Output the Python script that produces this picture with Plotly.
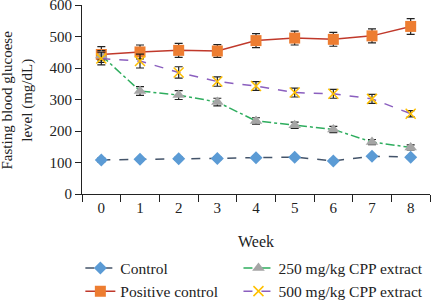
import plotly.graph_objects as go

weeks = ["0", "1", "2", "3", "4", "5", "6", "7", "8"]
control = [108, 110, 112, 113, 115, 117, 105, 120, 117]
control_err = [6, 5, 5, 5, 5, 5, 5, 5, 5]
positive = [443, 451, 456, 454, 487, 495, 491, 502, 532]
positive_err = [25, 22, 22, 20, 22, 22, 22, 22, 25]
cpp250 = [440, 327, 314, 292, 232, 218, 205, 165, 148]
cpp250_err = [15, 14, 14, 12, 10, 10, 10, 8, 8]
cpp500 = [430, 422, 386, 357, 343, 322, 318, 302, 255]
cpp500_err = [20, 22, 18, 15, 14, 14, 14, 14, 10]

font = "Liberation Serif, Times New Roman, serif"

fig = go.Figure()

def add(name, y, err, line_color, dash, marker_color, symbol, size, legend):
    fig.add_trace(go.Scatter(
        x=weeks, y=y, name=name, mode="lines+markers",
        line=dict(color=line_color, width=1.5, dash=dash),
        marker=dict(color=marker_color, symbol=symbol, size=size,
                    line=dict(color=marker_color, width=1.5 if symbol == "x-thin" else 0)),
        error_y=dict(type="data", array=err, color="#222222", thickness=1.2, width=4),
        legend=legend,
    ))

add("Control", control, control_err, "#44546A", "dash", "#5B9BD5", "diamond", 10, "legend")
add("Positive control", positive, positive_err, "#C0392B", "solid", "#ED7D31", "square", 11, "legend")
add("250 mg/kg CPP extract", cpp250, cpp250_err, "#2EAD5E", "dashdot", "#A5A5A5", "triangle-up", 11, "legend2")
add("500 mg/kg CPP extract", cpp500, cpp500_err, "#8B5FBF", "dash", "#FFC000", "x-thin", 10, "legend2")

leg_common = dict(orientation="v", xref="container", yref="container", xanchor="left",
                  yanchor="top", y=0.162, font=dict(size=15.5), tracegroupgap=0,
                  bgcolor="rgba(0,0,0,0)")

fig.update_layout(
    width=432, height=300,
    margin=dict(l=82, r=2, t=5, b=106, autoexpand=False),
    paper_bgcolor="white", plot_bgcolor="white",
    font=dict(family=font, size=15, color="#222222"),
    showlegend=True,
    legend=dict(x=0.186, **leg_common),
    legend2=dict(x=0.552, **leg_common),
    annotations=[dict(
        text="Fasting blood glucoese<br>level (mg/dL)", xref="paper", yref="paper",
        x=-0.184, y=0.5, xanchor="center", yanchor="middle", textangle=-90,
        showarrow=False, font=dict(size=15, family=font, color="#222222"),
    )],
)
fig.update_xaxes(
    type="category", range=[-0.5, 8.5], showline=True, linecolor="#222222", linewidth=1,
    ticks="outside", ticklen=7, tickcolor="#222222", tickson="boundaries",
    showgrid=False, zeroline=False, automargin=True,
    title=dict(text="Week", standoff=20, font=dict(size=16)),
)
fig.update_yaxes(
    range=[0, 600], dtick=100, showline=True, linecolor="#222222", linewidth=1,
    ticks="outside", ticklen=6, tickcolor="#222222", showgrid=False, zeroline=False,
    automargin=True, ticklabeloverflow="allow",
)

fig.write_html("out.html", config={"displayModeBar": False},
               post_script="document.body.style.margin='0';document.body.style.padding='0';")
